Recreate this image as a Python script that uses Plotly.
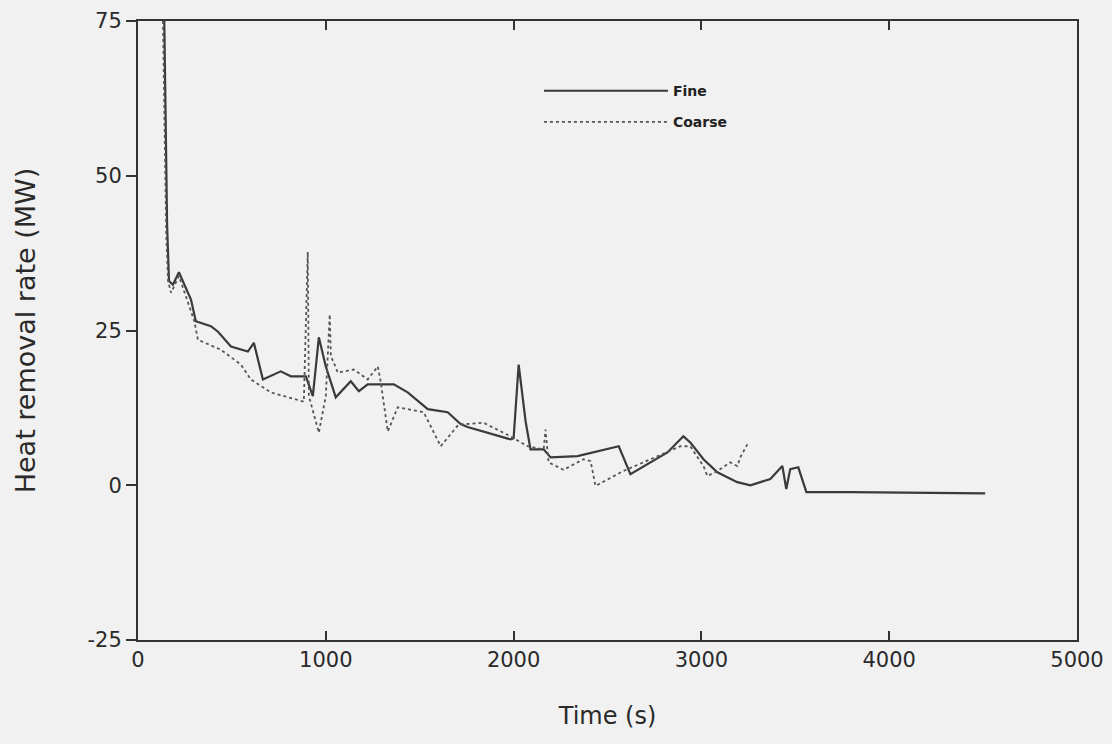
import plotly.graph_objects as go

# Fine nodalization (solid)
fine_t = [140, 148, 155, 165, 186, 218, 282, 308, 388, 426, 495, 585, 617, 665, 760, 814, 894, 931,
          963, 1000, 1053, 1133, 1176, 1223, 1362, 1436, 1543, 1649, 1718, 1755, 1984, 2000, 2027, 2064,
          2090, 2160, 2197, 2340, 2560, 2622, 2729, 2819, 2904, 2941, 3011, 3085, 3191, 3261, 3367,
          3431, 3452, 3473, 3516, 3559, 3793, 4100, 4511]
fine_v = [75, 57, 42, 33, 32.4, 34.4, 30, 26.5, 25.7, 24.8, 22.4, 21.6, 23, 17.1, 18.4, 17.6, 17.6, 14.4,
          23.9, 19.2, 14.2, 16.8, 15.2, 16.3, 16.3, 15, 12.3, 11.8, 9.9, 9.4, 7.4, 7.6, 19.5, 10.3,
          5.8, 5.8, 4.5, 4.7, 6.3, 1.8, 3.7, 5.3, 7.9, 6.9, 4.2, 2.1, 0.5, 0, 1,
          3.1, -0.6, 2.6, 2.9, -1.1, -1.1, -1.2, -1.3]

# Coarse nodalization (dotted)
coarse_t = [133, 142, 150, 160, 176, 218, 300, 319, 441, 548, 601, 707, 883, 904, 910, 963, 1000, 1021,
            1027, 1040, 1064, 1149, 1223, 1277, 1293, 1330, 1383, 1521, 1612, 1707, 1840, 1984, 2074,
            2160, 2170, 2186, 2266, 2372, 2410, 2436, 2585, 2691, 2766, 2888, 2941, 3011, 3032, 3085,
            3154, 3191, 3210, 3245]
coarse_v = [75, 55, 41, 33, 31.1, 33.8, 26.5, 23.5, 21.9, 19.5, 17.1, 15, 13.5, 37.7, 14.4, 8.5, 14.4, 27.6,
            20.8, 20, 18.2, 18.7, 17.1, 19.2, 16.6, 8.7, 12.6, 11.8, 6.3, 9.8, 10.1, 7.9, 6.3,
            5.8, 9, 3.7, 2.5, 4.2, 3.9, -0.1, 2.3, 3.7, 4.7, 6.3, 6.3, 3.1, 1.5, 2.3,
            3.7, 3.1, 4.7, 6.6]

x_ticks = [0, 1000, 2000, 3000, 4000, 5000]
y_ticks = [-25, 0, 25, 50, 75]

BG = "#f1f1f1"

fig = go.Figure()
fig.add_trace(go.Scatter(x=fine_t, y=fine_v, mode="lines", name="Fine", legendgroup="fine",
                         line=dict(color="#3a3a3a", width=2.2)))
fig.add_trace(go.Scatter(x=coarse_t, y=coarse_v, mode="lines", name="Coarse", legendgroup="coarse",
                         line=dict(color="#555555", width=1.8, dash="dot")))

font_family = "DejaVu Sans"
fig.update_layout(
    width=1112, height=744,
    paper_bgcolor=BG, plot_bgcolor=BG,
    margin=dict(l=138, r=35, t=21, b=104),
    font=dict(family=font_family, color="#2a2a2a"),
    showlegend=True,
    legend=dict(x=0.427, y=0.9125, xanchor="left", yanchor="top",
                bgcolor="rgba(0,0,0,0)", itemwidth=124,
                font=dict(size=14, color="#222", weight="bold"), tracegroupgap=10),
    xaxis=dict(range=[0, 5000], tickvals=x_ticks, ticks="inside", ticklen=9,
               tickwidth=1.5, tickcolor="#333", automargin=False,
               showline=True, linecolor="#333", linewidth=2, mirror="ticks",
               showgrid=False, zeroline=False,
               tickfont=dict(size=21),
               title=dict(text="Time (s)", font=dict(size=24), standoff=36)),
    yaxis=dict(range=[-25, 75], tickvals=y_ticks, ticktext=[str(v) for v in y_ticks],
               ticks="outside", ticklen=10, tickwidth=1.5, tickcolor="#333", automargin=False,
               showline=True, linecolor="#333", linewidth=2, mirror=True,
               showgrid=False, zeroline=False,
               tickfont=dict(size=21),
               title=dict(text="Heat removal rate (MW)", font=dict(size=27), standoff=44)),
)

fig.write_html("out.html", config={"displayModeBar": False},
               post_script="document.body.style.margin='0';document.body.style.background='%s';" % BG)
